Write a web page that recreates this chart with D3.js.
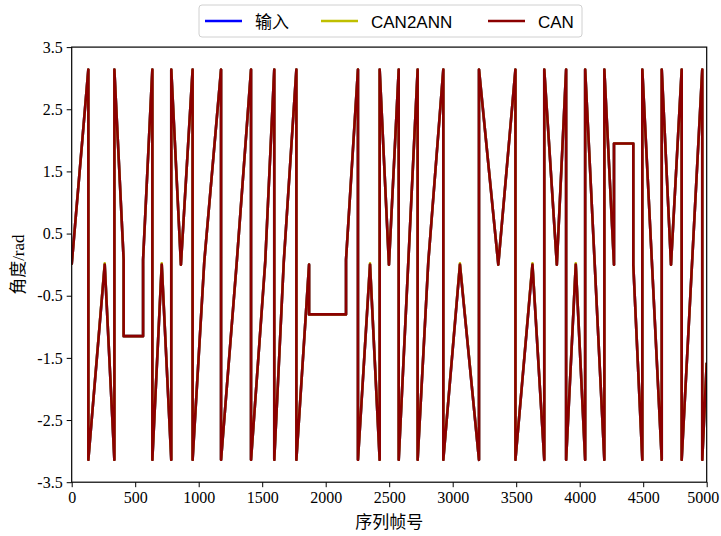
<!DOCTYPE html>
<html>
<head>
<meta charset="utf-8">
<script src="https://cdn.jsdelivr.net/npm/d3@7"></script>
<style>
  html, body { margin: 0; padding: 0; background: #fff; }
  svg { display: block; }
</style>
</head>
<body>
<svg id="chart" width="721" height="536"></svg>
<script>
// ---- data ----
const seriesNames = ["输入", "CAN2ANN", "CAN"];
const seriesColors = ["#0000ff", "#bfbf00", "#8b0000"];
const xTicks = [0, 500, 1000, 1500, 2000, 2500, 3000, 3500, 4000, 4500, 5000];
const yTicks = [-3.5, -2.5, -1.5, -0.5, 0.5, 1.5, 2.5, 3.5];

const frames = [
  0, 131, 131, 260, 336, 336, 409, 409, 562, 562,
  635, 635, 709, 784, 784, 860, 952, 952, 1044, 1176,
  1176, 1300, 1412, 1412, 1524, 1595, 1595, 1670, 1769, 1769,
  1869, 1869, 2160, 2160, 2254, 2254, 2349, 2425, 2425, 2498,
  2575, 2575, 2724, 2724, 2808, 2926, 2926, 3057, 3207, 3207,
  3359, 3494, 3494, 3628, 3721, 3721, 3820, 3893, 3893, 3969,
  4043, 4043, 4194, 4194, 4270, 4270, 4422, 4422, 4493, 4493,
  4646, 4646, 4719, 4803, 4803, 4965, 4965, 5000
];
const inputAngle = [
  0, 3.14, -3.14, 0, -3.14, 3.14, 0.08, -1.15, -1.15, 0.08,
  3.14, -3.14, 0, -3.14, 3.14, 0, 3.14, -3.14, 0.05, 3.14,
  -3.14, 0.05, 3.14, -3.14, 0.05, 3.14, -3.14, 0.05, 3.14, -3.14,
  0, -0.8, -0.8, 0.08, 3.14, -3.14, 0, -3.14, 3.14, 0,
  3.14, -3.14, 3.14, -3.14, 0.05, 3.14, -3.14, 0, -3.14, 3.14,
  0, 3.14, -3.14, 0, -3.14, 3.14, 0, 3.14, -3.14, 0,
  -3.14, 3.14, -3.14, 3.14, 0, 1.95, 1.95, 0, -3.14, 3.14,
  -3.14, 3.14, 0, 3.14, -3.14, 3.14, -3.14, -1.58
];
const can2annAngle = [
  0, 3.14, -3.14, 0.02, -3.14, 3.14, 0.08, -1.15, -1.15, 0.08,
  3.14, -3.14, 0.02, -3.14, 3.14, 0, 3.14, -3.14, 0.05, 3.14,
  -3.14, 0.05, 3.14, -3.14, 0.05, 3.14, -3.14, 0.05, 3.14, -3.14,
  0, -0.8, -0.8, 0.08, 3.14, -3.14, 0.02, -3.14, 3.14, 0,
  3.14, -3.14, 3.14, -3.14, 0.05, 3.14, -3.14, 0.02, -3.14, 3.14,
  0, 3.14, -3.14, 0.02, -3.14, 3.14, 0, 3.14, -3.14, 0.02,
  -3.14, 3.14, -3.14, 3.14, 0, 1.95, 1.95, 0, -3.14, 3.14,
  -3.14, 3.14, 0, 3.14, -3.14, 3.14, -3.14, -1.58
];
const canAngle = [
  0, 3.14, -3.14, 0, -3.14, 3.14, 0.08, -1.15, -1.15, 0.08,
  3.14, -3.14, 0, -3.14, 3.14, 0, 3.14, -3.14, 0.05, 3.14,
  -3.14, 0.05, 3.14, -3.14, 0.05, 3.14, -3.14, 0.05, 3.14, -3.14,
  0, -0.8, -0.8, 0.08, 3.14, -3.14, 0, -3.14, 3.14, 0,
  3.14, -3.14, 3.14, -3.14, 0.05, 3.14, -3.14, 0, -3.14, 3.14,
  0, 3.14, -3.14, 0, -3.14, 3.14, 0, 3.14, -3.14, 0,
  -3.14, 3.14, -3.14, 3.14, 0, 1.95, 1.95, 0, -3.14, 3.14,
  -3.14, 3.14, 0, 3.14, -3.14, 3.14, -3.14, -1.58
];
const seriesValues = [inputAngle, can2annAngle, canAngle];

// ---- layout ----
const svg = d3.select("#chart");
const L = 71.7, R = 706.7, T = 47.1, B = 482.2;

const x = d3.scaleLinear().domain([0, 5000]).range([L, R]);
const y = d3.scaleLinear().domain([-3.5, 3.5]).range([B, T]);

const serif = "'Liberation Serif', 'Times New Roman', serif";

// lines (clipped to plot area)
svg.append("clipPath").attr("id", "clip")
  .append("rect").attr("x", L).attr("y", T).attr("width", R - L).attr("height", B - T);

const line = d3.line().x(d => x(d[0])).y(d => y(d[1]));
const plot = svg.append("g").attr("clip-path", "url(#clip)");
seriesValues.forEach((vals, i) => {
  const pts = frames.map((f, k) => [f, vals[k]]);
  plot.append("path")
    .datum(pts)
    .attr("d", line)
    .attr("fill", "none")
    .attr("stroke", seriesColors[i])
    .attr("stroke-width", 2.6)
    .attr("stroke-linejoin", "round");
});

// axes
const xAxis = d3.axisBottom(x).tickValues(xTicks).tickSize(5).tickPadding(4).tickFormat(d3.format("d"));
const yAxis = d3.axisLeft(y).tickValues(yTicks).tickSize(5).tickPadding(4).tickFormat(d => d3.format(".1f")(d).replace("−", "-"));

const gx = svg.append("g").attr("transform", `translate(0,${B})`).call(xAxis);
const gy = svg.append("g").attr("transform", `translate(${L},0)`).call(yAxis);
[gx, gy].forEach(g => {
  g.select(".domain").remove();
  g.selectAll(".tick line").attr("stroke", "#000").attr("stroke-width", 1);
  g.selectAll(".tick text").attr("fill", "#000").style("font-family", serif).style("font-size", "16px");
});
// keep the last x tick label inside the window
gx.selectAll(".tick text").filter(d => d === 5000).attr("text-anchor", "end").attr("dx", "12px");

// frame
svg.append("rect")
  .attr("x", L).attr("y", T).attr("width", R - L).attr("height", B - T)
  .attr("fill", "none").attr("stroke", "#000").attr("stroke-width", 1.2);

// axis labels
svg.append("text")
  .attr("x", (L + R) / 2).attr("y", 528)
  .attr("text-anchor", "middle")
  .style("font-family", "'Noto Sans CJK SC', serif")
  .style("font-size", "17px")
  .text("序列帧号");

const yl = svg.append("text")
  .attr("transform", `translate(24,${(T + B) / 2}) rotate(-90)`)
  .attr("text-anchor", "middle")
  .style("font-size", "17px");
yl.append("tspan").style("font-family", "'Noto Sans CJK SC', serif").text("角度");
yl.append("tspan").style("font-family", serif).text("/rad");

// legend
const lg = svg.append("g");
lg.append("rect")
  .attr("x", 199).attr("y", 5).attr("width", 383).attr("height", 32)
  .attr("rx", 3).attr("fill", "#fff").attr("stroke", "#d0d0d0").attr("stroke-width", 1);
const legendX = [205, 321, 488];
seriesNames.forEach((name, i) => {
  lg.append("line")
    .attr("x1", legendX[i]).attr("x2", legendX[i] + 37)
    .attr("y1", 21).attr("y2", 21)
    .attr("stroke", seriesColors[i]).attr("stroke-width", 2.6);
  lg.append("text")
    .attr("x", legendX[i] + 50).attr("y", 27.5)
    .style("font-family", i === 0 ? "'Noto Sans CJK SC', sans-serif" : "'Liberation Sans', Arial, sans-serif")
    .style("font-size", "17px")
    .attr("fill", "#000")
    .text(name);
});
</script>
</body>
</html>
